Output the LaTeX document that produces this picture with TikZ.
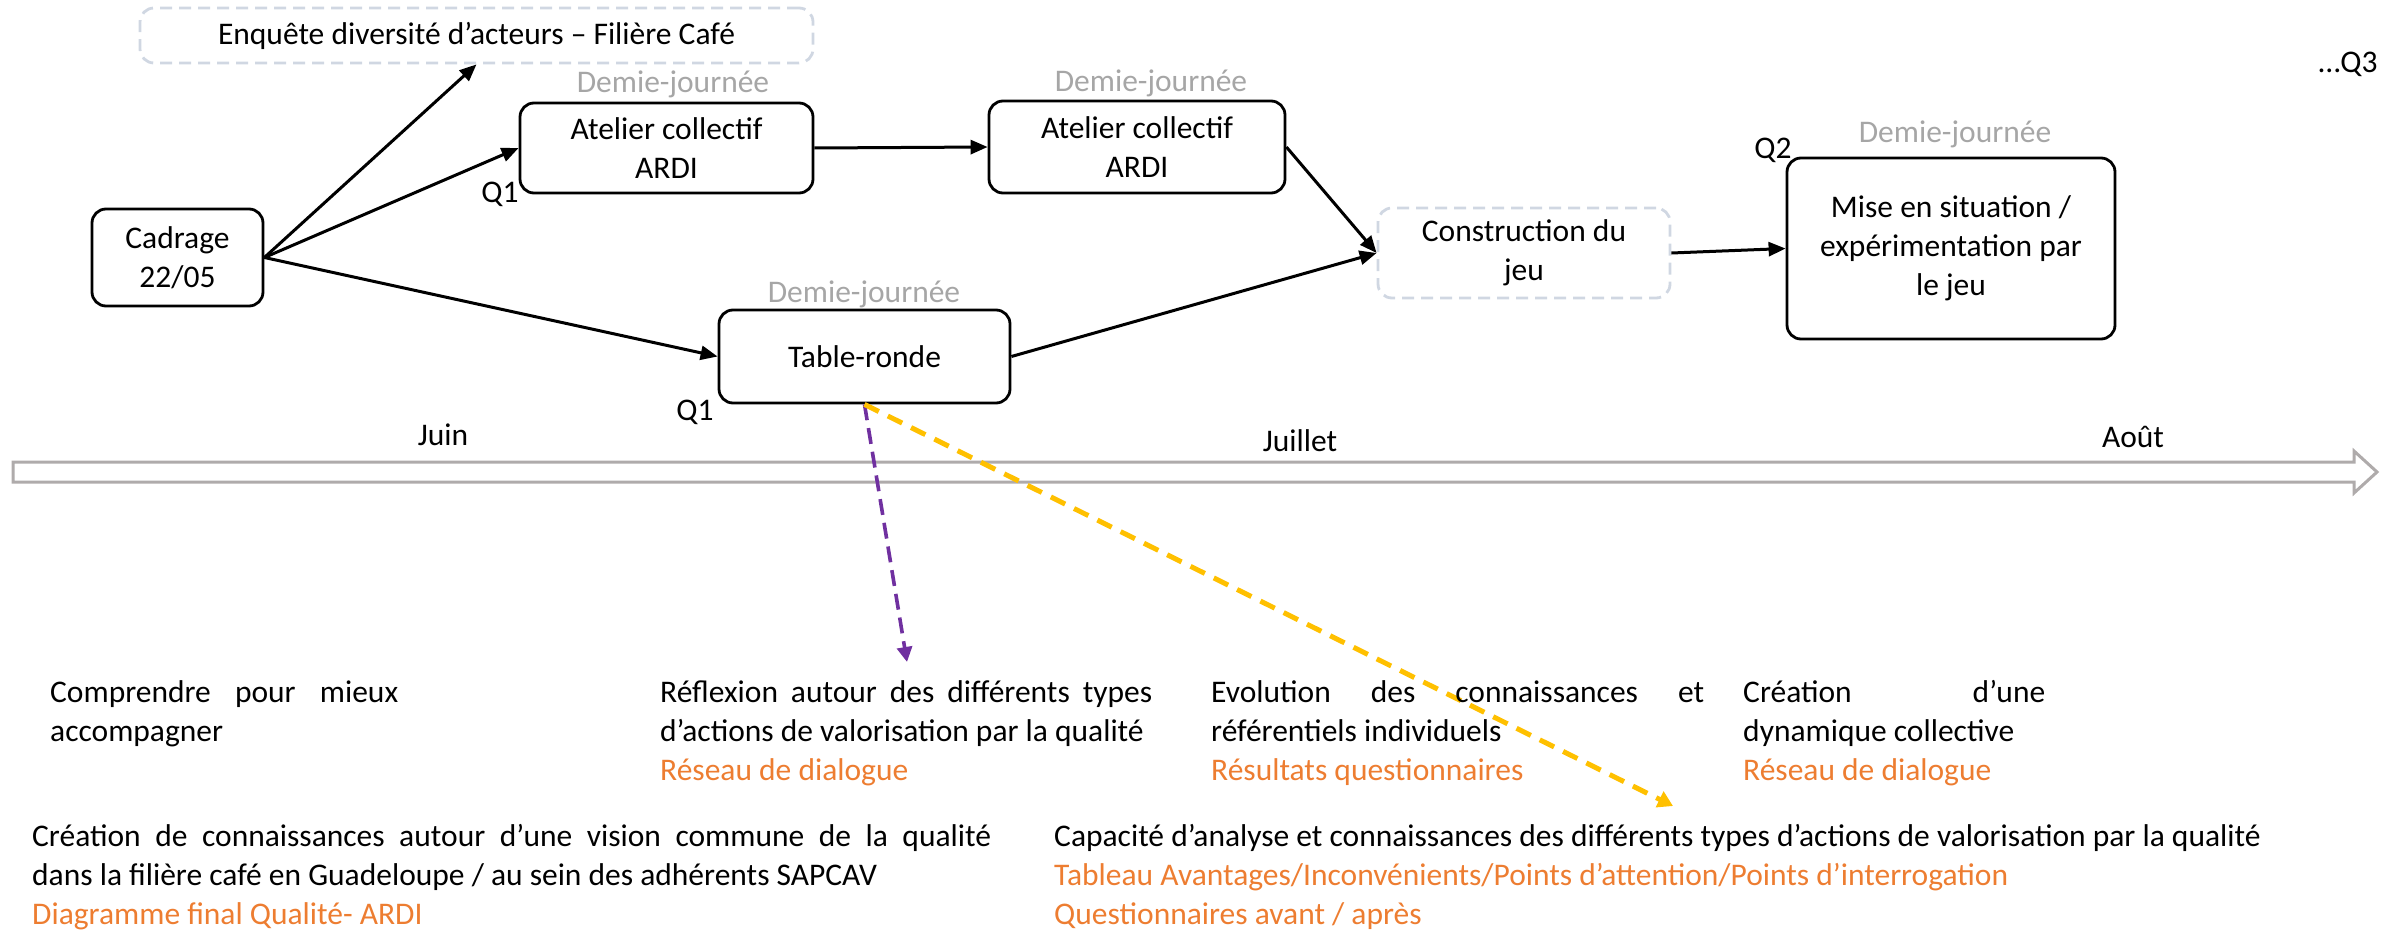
\documentclass[tikz,border=0pt]{standalone}
\usepackage{fontspec}
\setmainfont{Carlito}
\usetikzlibrary{arrows.meta}
\definecolor{ggray}{RGB}{166,166,166}
\definecolor{orng}{RGB}{237,125,49}
\definecolor{dashc}{RGB}{208,215,226}
\definecolor{tline}{RGB}{175,171,171}
\definecolor{purp}{RGB}{112,48,160}
\definecolor{gold}{RGB}{255,192,0}
\setlength{\parindent}{0pt}
\tolerance=10000
\hbadness=10000
\begin{document}
\begin{tikzpicture}[x=1pt,y=-1pt,
  every node/.style={font=\fontsize{31.5}{39}\selectfont},
  box/.style={draw, line width=2.8pt, rounded corners=14pt, align=center, inner sep=0pt},
  dbox/.style={draw=dashc, line width=2.8pt, dash pattern=on 12pt off 7pt, rounded corners=14pt, align=center, inner sep=0pt},
  conn/.style={line width=3pt, -{Triangle[length=17pt,width=14pt]}},
  half/.style={text=ggray, inner sep=0pt},
  lbl/.style={inner sep=0pt},
  para/.style={anchor=base west, inner sep=0pt, align=justify},
  paral/.style={anchor=base west, inner sep=0pt, align=flush left}
]
\useasboundingbox (0,0) rectangle (2395,931);

% boxes
\node[dbox, minimum width=673pt, minimum height=55pt] (enq) at (476.5,35.5) {Enquête diversité d’acteurs – Filière Café};
\node[box, minimum width=171pt, minimum height=97pt] (cad) at (177.5,257.5) {Cadrage\\22/05};
\node[box, minimum width=293pt, minimum height=90pt] (at1) at (666.5,148) {Atelier collectif\\ARDI};
\node[box, minimum width=296pt, minimum height=92pt] (at2) at (1137,147) {Atelier collectif\\ARDI};
\node[box, minimum width=291pt, minimum height=93pt] (tab) at (864.5,356.5) {Table-ronde};
\node[dbox, minimum width=292pt, minimum height=90pt] (cons) at (1524,253) {Construction du\\jeu};
\node[box, minimum width=328pt, minimum height=181pt] (mise) at (1951,248.5) {Mise en situation /\\expérimentation par\\le jeu};

% small labels
\node[half] (dj1) at (673,84) {Demie-journée};
\node[half] (dj2) at (1151,83) {Demie-journée};
\node[half] (dj3) at (864,294) {Demie-journée};
\node[half] (dj4) at (1955,134) {Demie-journée};
\node[lbl] (q1a) at (500,194) {Q1};
\node[lbl] (q1b) at (695,412) {Q1};
\node[lbl] (q2) at (1773,150) {Q2};
\node[lbl] (q3) at (2348,64) {…Q3};

% timeline
\draw[tline, line width=3pt, fill=white] (13,462) -- (2354,462) -- (2354,451) -- (2377,472) -- (2354,493) -- (2354,482) -- (13,482) -- cycle;
\node[lbl] (juin) at (443,435) {Juin};
\node[lbl] (juil) at (1300,441) {Juillet};
\node[lbl] (aout) at (2133,437) {Août};

% connectors
\draw[conn] (cad.east) -- (enq.south);
\draw[conn] (cad.east) -- (at1.west);
\draw[conn] (cad.east) -- (tab.west);
\draw[conn] (at1.east) -- (at2.west);
\draw[conn] (at2.east) -- (cons.west);
\draw[conn] (tab.east) -- (cons.west);
\draw[conn] (cons.east) -- (mise.west);

\coordinate (pend) at (907,662);
\coordinate (yend) at (1673,806);
\draw[line width=3.6pt, purp, dash pattern=on 16pt off 8pt, -{Triangle[length=15pt,width=15pt]}] (tab.south) -- (pend);
\draw[line width=5pt, gold, dash pattern=on 16pt off 10pt, -{Triangle[length=15pt,width=17pt]}] (tab.south) -- (yend);

% bottom texts
\node[para, text width=348pt] (t1) at (50,702) {Comprendre pour mieux\linebreak accompagner};
\node[para, text width=492pt] (t2) at (660,702) {Réflexion autour des différents types\linebreak d’actions de valorisation par la qualité\par\textcolor{orng}{Réseau de dialogue}};
\node[para, text width=493pt] (t3) at (1211,702) {Evolution des connaissances et\linebreak référentiels individuels\par\textcolor{orng}{Résultats questionnaires}};
\node[para, text width=302pt] (t4) at (1743,702) {Création d’une\linebreak dynamique collective\par\textcolor{orng}{Réseau de dialogue}};
\node[para, text width=959pt] (t5) at (32,846) {Création de connaissances autour d’une vision commune de la qualité\linebreak dans la filière café en Guadeloupe / au sein des adhérents SAPCAV\par\textcolor{orng}{Diagramme final Qualité- ARDI}};
\node[paral, text width=1320pt] (t6) at (1054,846) {Capacité d’analyse et connaissances des différents types d’actions de valorisation par la qualité\\\textcolor{orng}{Tableau Avantages/Inconvénients/Points d’attention/Points d’interrogation}\\\textcolor{orng}{Questionnaires avant / après}};
\end{tikzpicture}
\end{document}
